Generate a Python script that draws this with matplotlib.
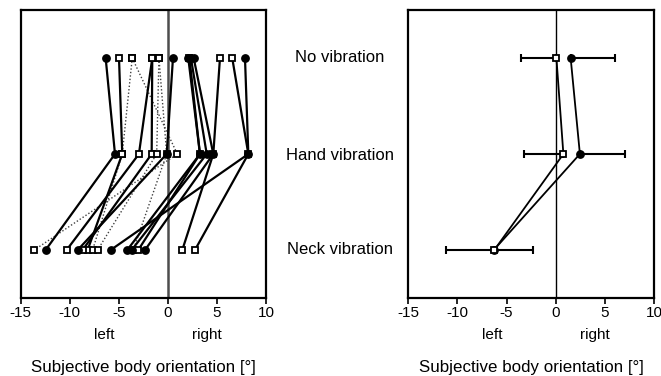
import numpy as np
import matplotlib.pyplot as plt
import matplotlib.transforms as mtransforms

plt.rcParams['font.family'] = ['Liberation Sans', 'DejaVu Sans']

conditions = ['No vibration', 'Hand vibration', 'Neck vibration']
ypos = [3, 2, 1]

# individual subjects: values for No / Hand / Neck vibration
circ_subj = [
    [-6.34, -5.39, -12.46],
    [0.52, -0.12, -9.19],
    [2.08, 3.27, -4.14],
    [2.35, 3.96, -3.69],
    [2.63, 4.63, -2.33],
    [7.86, 8.2, -5.83],
]

sq_subj = [
    [-4.98, -4.65, -8.18],
    [-3.63, -4.65, -7.67],
    [-3.63, 0.96, -13.62],
    [-1.59, -2.95, -10.32],
    [-1.59, -1.65, -8.69],
    [-0.91, -1.14, -7.16],
    [-0.91, -0.12, -3.53],
    [2.2, 3.27, -3.02],
    [5.31, 4.63, 1.47],
    [6.56, 8.2, 2.76],
]
sq_dotted = [False, True, True, False, False, True, True, False, False, False]

# group means and SDs
sq_mean = [0.07, 0.78, -6.25]
sq_sd = [3.6, 4.05, 4.88]
circ_mean = [1.52, 2.46, -6.3]
circ_sd = [4.55, 4.63, 3.95]

xticks = [-15, -10, -5, 0, 5, 10]

fig = plt.figure(figsize=(6.61, 3.76), dpi=100)
ax1 = fig.add_axes([0.0313, 0.2074, 0.3711, 0.766])
ax2 = fig.add_axes([0.6177, 0.2074, 0.3717, 0.766])

# left panel: individual subjects
for vals, dot in zip(sq_subj, sq_dotted):
    if dot:
        ax1.plot(vals, ypos, ls=(0, (1, 1.5)), color='0.25', lw=1.0, zorder=2)
    else:
        ax1.plot(vals, ypos, ls='-', color='k', lw=1.6, zorder=3)
    ax1.plot(vals, ypos, ls='none', marker='s', ms=4.5, mfc='white', mec='k', mew=1.3, zorder=5)
for vals in circ_subj:
    ax1.plot(vals, ypos, ls='-', color='k', lw=1.6, zorder=3)
    ax1.plot(vals, ypos, ls='none', marker='o', ms=5.3, mfc='k', mec='k', zorder=5)
ax1.axvline(0, color='0.3', lw=1.8, zorder=1)

# right panel: means with one-sided SD
ax2.errorbar(sq_mean, ypos, xerr=[sq_sd, [0, 0, 0]], fmt='none', ecolor='k',
             elinewidth=1.5, capsize=3, capthick=1.5, zorder=2)
ax2.errorbar(circ_mean, ypos, xerr=[[0, 0, 0], circ_sd], fmt='none', ecolor='k',
             elinewidth=1.5, capsize=3, capthick=1.5, zorder=2)
ax2.plot(circ_mean, ypos, '-', color='k', lw=1.3, marker='o', ms=5.3, mfc='k', zorder=4)
ax2.plot(sq_mean, ypos, '-', color='k', lw=1.3, marker='s', ms=4.5, mfc='white',
         mec='k', mew=1.3, zorder=5)
ax2.axvline(0, color='k', lw=1.0, zorder=1)

for ax in (ax1, ax2):
    ax.set_xlim(-15, 10)
    ax.set_ylim(0.5, 3.5)
    ax.set_xticks(xticks)
    ax.set_xticklabels([str(t) for t in xticks], fontsize=11)
    ax.set_yticks([])
    ax.tick_params(axis='x', direction='out', length=4, width=1.2, pad=2)
    for sp in ax.spines.values():
        sp.set_linewidth(1.6)
    tr = mtransforms.blended_transform_factory(ax.transData, ax.transAxes)
    ax.text(-6.5, -0.128, 'left', transform=tr, ha='center', va='center', fontsize=11)
    ax.text(4.0, -0.128, 'right', transform=tr, ha='center', va='center', fontsize=11)
    ax.text(-2.5, -0.24, 'Subjective body orientation [°]', transform=tr,
            ha='center', va='center', fontsize=12.2)

for cond, yp in zip(conditions, [58, 155, 250]):
    fig.text(340 / 661, 1 - yp / 376, cond, ha='center', va='center', fontsize=12)

fig.savefig('out.png', dpi=100)
